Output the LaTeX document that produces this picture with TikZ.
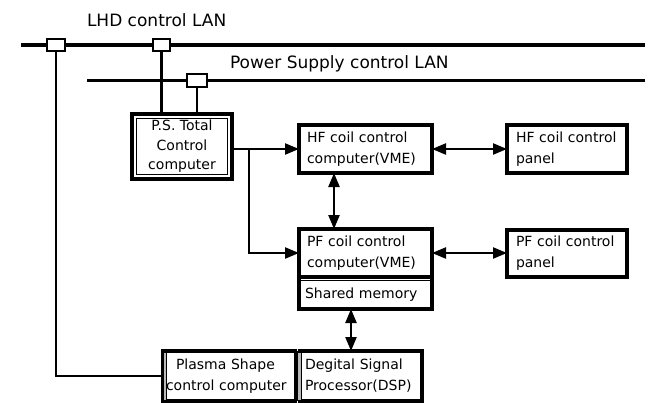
\documentclass[tikz,border=0pt]{standalone}
\usepackage{fontspec}
\setmainfont{DejaVu Sans}
\usetikzlibrary{arrows.meta,calc}
\newcommand{\bxfont}{\fontsize{14}{21}\selectfont\hyphenpenalty=10000\exhyphenpenalty=10000}
\newcommand{\psfont}{\fontsize{14}{19.5}\selectfont}
\newcommand{\lanfont}{\fontsize{17}{22}\selectfont}
\begin{document}
\begin{tikzpicture}[x=1pt,y=-1pt,
  every node/.style={outer sep=0pt},
  box/.style={draw, line width=3.2pt, fill=white, anchor=north west, align=left,
              inner ysep=0pt, font=\bxfont},
  lanline/.style={line width=3.3pt},
  conn/.style={line width=2.3pt},
  arr/.style={conn, -{Triangle[length=14pt,width=11pt]}},
  darr/.style={conn, {Triangle[length=14pt,width=11pt]}-{Triangle[length=14pt,width=11pt]}},
  tapbox/.style={draw, line width=2.7pt, fill=white, inner sep=0pt},
  lanlabel/.style={anchor=base west, inner sep=0pt, font=\lanfont}
]
\useasboundingbox (0,0) rectangle (659,402);

% LAN lines
\coordinate (lhdL) at (21,45);
\coordinate (lhdR) at (645,45);
\coordinate (psL) at (87,80.5);
\coordinate (psR) at (645,80.5);
\draw[lanline] (lhdL) -- (lhdR);
\draw[lanline] (psL) -- (psR);

\node[lanlabel] (lhdlabel) at (87,26) {LHD control LAN};
\node[lanlabel] (pslabel) at (230,68) {Power Supply control LAN};

% P.S. total control computer
\node[draw, line width=3.5pt, fill=white, anchor=north west, minimum width=100pt,
      minimum height=65pt, inner sep=0pt, align=center, font=\psfont] (ps) at (132,114)
      {P.S. Total\\Control\\computer};
\draw[line width=1.3pt] ($(ps.north west)+(4.2,4.2)$) rectangle ($(ps.south east)+(-4.2,-4.2)$);

% coil control computers and panels
\node[box, inner xsep=8pt, text width=117pt, minimum height=48pt] (hf) at (299,125)
      {HF coil control\\computer(VME)};
\node[box, inner xsep=8pt, text width=117pt, minimum height=48pt] (pf) at (299,229)
      {PF coil control\\computer(VME)};
\node[box, draw=none, inner xsep=6pt, text width=121pt, minimum height=28.5pt] (sm) at (299,280.5)
      {Shared memory};
\draw[line width=3.2pt] (pf.south west) -- (sm.south west) -- (sm.south east) -- (pf.south east);
\draw[line width=1.2pt] (sm.north west) -- (sm.north east);

\node[box, inner xsep=9pt, text width=102pt, minimum height=48pt] (hfp) at (507,125)
      {HF coil control\\panel};
\node[box, inner xsep=9pt, text width=102pt, minimum height=47pt] (pfp) at (507,230)
      {PF coil control\\panel};

% plasma shape control computer and DSP
\node[box, inner xsep=3.5pt, text width=126pt, minimum height=50pt] (plasma) at (162.5,351)
      {\hspace*{10pt}Plasma Shape\\control computer};
\fill[gray!55] ($(plasma.north west)+(1.5,1.5)$) rectangle ($(plasma.south west)+(3.6,-1.5)$);
\draw[line width=1pt] ($(plasma.north west)+(4,1.5)$) -- ($(plasma.south west)+(4,-1.5)$);

\node[box, draw=none, inner xsep=7.5pt, text width=109.5pt, minimum height=50pt] (dsp) at (297.5,351)
      {Degital Signal\\Processor(DSP)};
\draw[line width=3.2pt] (dsp.north west) -- (dsp.north east) -- (dsp.south east) -- (dsp.south west);
\fill[gray!55] ($(dsp.north west)+(0.5,1.5)$) rectangle ($(dsp.south west)+(3,-1.5)$);
\draw[line width=1pt] (dsp.north west) -- (dsp.south west);
\draw[line width=1pt] ($(dsp.north west)+(3.5,0)$) -- ($(dsp.south west)+(3.5,0)$);

% LAN taps
\node[tapbox, minimum width=18pt, minimum height=12pt] (tap1) at (56,45) {};
\node[tapbox, minimum width=17pt, minimum height=12pt] (tap2) at (161.5,45) {};
\node[tapbox, minimum width=20pt, minimum height=13pt] (tap3) at (197,80.5) {};

% tap connections
\draw[conn] (tap2.south) -- (tap2.south |- ps.north);
\draw[conn] (tap3.south) -- (tap3.south |- ps.north);
\draw[conn] (tap1.south) |- (plasma.west);

% control arrows
\coordinate (branch) at (249,149);
\draw[arr] (ps.east |- hf.west) -- (hf.west);
\draw[arr] (branch) |- (pf.west);

\coordinate (vx1) at (334,0);
\coordinate (vx2) at (351,0);
\draw[darr] (hf.south -| vx1) -- (pf.north -| vx1);
\draw[darr] (hf.east) -- (hfp.west |- hf.east);
\draw[darr] (pf.east) -- (pfp.west |- pf.east);
\draw[darr] (sm.south -| vx2) -- (dsp.north -| vx2);
\end{tikzpicture}
\end{document}
